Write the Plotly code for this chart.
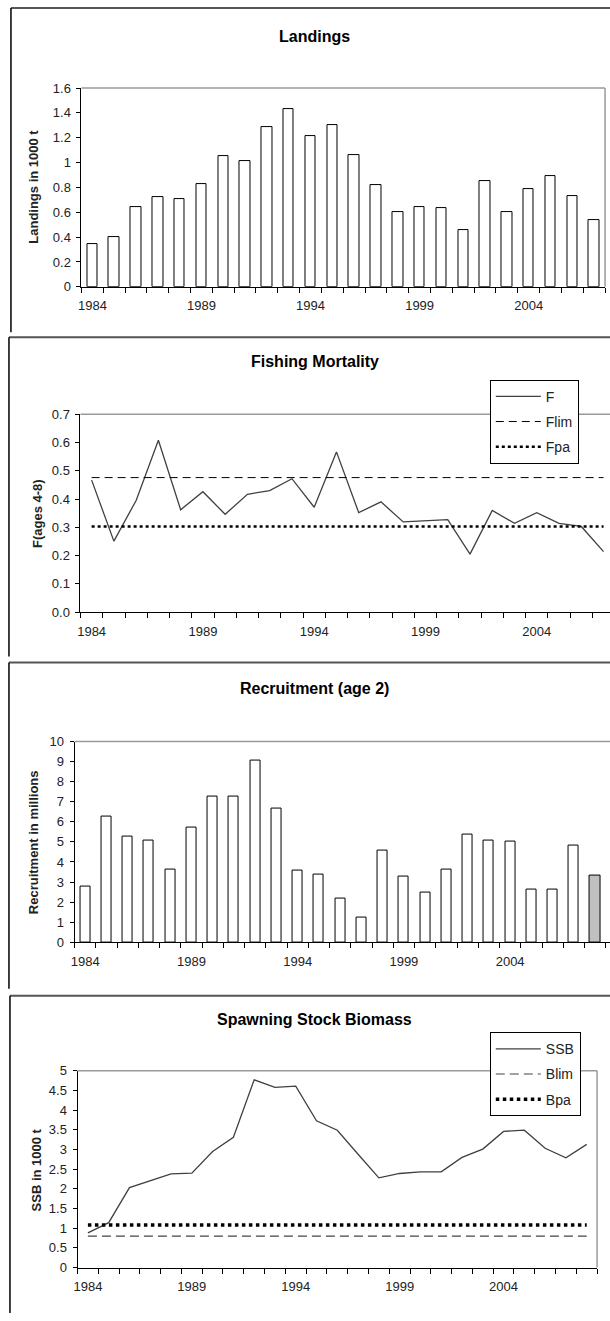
import plotly.graph_objects as go

# --- data ---
years = list(range(1984, 2008))
years_rec = list(range(1984, 2009))
tick_years = [1984, 1989, 1994, 1999, 2004]

landings = [0.34, 0.40, 0.64, 0.72, 0.71, 0.83, 1.05, 1.01, 1.29, 1.43, 1.21, 1.30,
            1.06, 0.82, 0.60, 0.64, 0.63, 0.46, 0.85, 0.60, 0.79, 0.89, 0.73, 0.54]

f_ages = [0.467, 0.251, 0.395, 0.608, 0.362, 0.426, 0.346, 0.417, 0.430, 0.472, 0.371, 0.567,
          0.352, 0.390, 0.319, 0.322, 0.327, 0.205, 0.360, 0.314, 0.352, 0.314, 0.303, 0.214]
flim = 0.476
fpa = 0.303

recruitment = [2.78, 6.26, 5.25, 5.09, 3.61, 5.72, 7.25, 7.25, 9.07, 6.68, 3.56, 3.37, 2.20,
               1.22, 4.57, 3.25, 2.47, 3.61, 5.35, 5.09, 5.04, 2.63, 2.63, 4.83, 3.30]

ssb = [0.88, 1.14, 2.03, 2.20, 2.38, 2.40, 2.95, 3.31, 4.77, 4.58, 4.61, 3.73, 3.49,
       2.88, 2.28, 2.39, 2.43, 2.43, 2.80, 3.01, 3.46, 3.49, 3.03, 2.79, 3.13]
blim = 0.80
bpa = 1.08

W, H = 610, 1321
FONT = "Liberation Sans, Arial, sans-serif"


def px_x(p):
    return p / W


def px_y(p):
    return 1 - p / H


fig = go.Figure()

# --- panel 1: landings ---
fig.add_trace(go.Bar(
    x=years, y=landings, width=0.48, showlegend=False,
    marker=dict(color="white", line=dict(color="black", width=1)),
    xaxis="x", yaxis="y"))

# --- panel 2: fishing mortality ---
fig.add_trace(go.Scatter(
    x=years, y=f_ages, mode="lines", name="F", legend="legend", legendgroup="a",
    line=dict(color="#404040", width=1.3), xaxis="x2", yaxis="y2"))
fig.add_trace(go.Scatter(
    x=years, y=[flim] * len(years), mode="lines", name="Flim", legend="legend", legendgroup="b",
    line=dict(color="black", width=1, dash="8px,5px"), xaxis="x2", yaxis="y2"))
fig.add_trace(go.Scatter(
    x=years, y=[fpa] * len(years), mode="lines", name="Fpa", legend="legend", legendgroup="c",
    line=dict(color="black", width=2.5, dash="dot"), xaxis="x2", yaxis="y2"))

# --- panel 3: recruitment ---
rec_colors = ["white"] * (len(recruitment) - 1) + ["#c0c0c0"]
fig.add_trace(go.Bar(
    x=years_rec, y=recruitment, width=0.48, showlegend=False,
    marker=dict(color=rec_colors, line=dict(color="black", width=1)),
    xaxis="x3", yaxis="y3"))

# --- panel 4: SSB ---
fig.add_trace(go.Scatter(
    x=years_rec, y=ssb, mode="lines", name="SSB", legend="legend2", legendgroup="a",
    line=dict(color="#404040", width=1.3), xaxis="x4", yaxis="y4"))
fig.add_trace(go.Scatter(
    x=years_rec, y=[blim] * len(years_rec), mode="lines", name="Blim", legend="legend2", legendgroup="b",
    line=dict(color="#444444", width=1.2, dash="9px,5px"), xaxis="x4", yaxis="y4"))
fig.add_trace(go.Scatter(
    x=years_rec, y=[bpa] * len(years_rec), mode="lines", name="Bpa", legend="legend2", legendgroup="c",
    line=dict(color="black", width=3.5, dash="dot"), xaxis="x4", yaxis="y4"))


def xstyle(x0, x1, rng, anchor):
    return dict(
        domain=[px_x(x0), px_x(x1)], range=rng, anchor=anchor,
        tickvals=tick_years, ticks="", ticklen=0, ticklabelstandoff=7,
        showgrid=False, zeroline=False,
        showline=True, linecolor="black", linewidth=1,
        minor=dict(tick0=1983.5, dtick=1, ticks="outside", ticklen=5,
                   tickcolor="black", tickwidth=1, showgrid=False),
        tickfont=dict(size=13, color="#222"))


def ystyle(top, bottom, rng, dtick, anchor, fmt=""):
    return dict(
        domain=[px_y(bottom), px_y(top)], range=rng, anchor=anchor,
        tick0=0, dtick=dtick, tickformat=fmt, ticks="outside", ticklen=4,
        ticklabelstandoff=3,
        tickcolor="black", showline=True, linecolor="black", linewidth=1,
        showgrid=False, zeroline=False, tickfont=dict(size=13, color="#222"))


legend_common = dict(
    xanchor="left", yanchor="top", bgcolor="white", bordercolor="black", borderwidth=1,
    font=dict(size=14, color="#222", family=FONT), traceorder="grouped",
    tracegroupgap=4, itemwidth=45)

shapes = []
# plot-area borders (gray top / right)
for ax, right in [("", True), ("2", False), ("3", False), ("4", True)]:
    shapes.append(dict(type="line", xref=f"x{ax} domain", yref=f"y{ax} domain",
                       x0=0, x1=1, y0=1, y1=1, line=dict(color="#9a9a9a", width=1.5)))
    if right:
        shapes.append(dict(type="line", xref=f"x{ax} domain", yref=f"y{ax} domain",
                           x0=1, x1=1, y0=0, y1=1, line=dict(color="#9a9a9a", width=1.5)))

# panel frames (top and left edges)
for top, bottom, left in [(1, 329, 7), (334, 657, 5), (663, 993, 5), (1000, 1321, 6)]:
    shapes.append(dict(type="line", xref="paper", yref="paper",
                       x0=px_x(left), x1=1, y0=px_y(top), y1=px_y(top),
                       line=dict(color="#555", width=2)))
    shapes.append(dict(type="line", xref="paper", yref="paper",
                       x0=px_x(left), x1=px_x(left), y0=px_y(top), y1=px_y(bottom),
                       line=dict(color="black", width=1.5)))

annotations = []
for text, y in [("Landings", 30), ("Fishing Mortality", 359),
                ("Recruitment (age 2)", 689), ("Spawning Stock Biomass", 1024)]:
    annotations.append(dict(text=f"<b>{text}</b>", xref="paper", yref="paper",
                            x=px_x(313), y=px_y(y), xanchor="center", yanchor="middle",
                            showarrow=False, font=dict(size=16, color="black", family=FONT)))
for text, x, y in [("Landings in 1000 t", 30, 182), ("F(ages 4-8)", 33, 512),
                   ("Recruitment in millions", 30, 845), ("SSB in 1000 t", 33, 1176)]:
    annotations.append(dict(text=f"<b>{text}</b>", xref="paper", yref="paper",
                            x=px_x(x), y=px_y(y), xanchor="center", yanchor="middle",
                            showarrow=False, textangle=-90,
                            font=dict(size=13, color="#222", family=FONT)))

fig.update_layout(
    width=W, height=H, margin=dict(l=0, r=0, t=0, b=0),
    paper_bgcolor="white", plot_bgcolor="white",
    font=dict(family=FONT, color="#222"),
    bargap=0,
    xaxis=xstyle(78, 605, [1983.5, 2007.5], "y"),
    yaxis=ystyle(82, 283, [0, 1.6], 0.2, "x"),
    xaxis2=xstyle(77, 610, [1983.5, 2007.29], "y2"),
    yaxis2=ystyle(412, 612, [0, 0.7], 0.1, "x2", ".1f"),
    xaxis3=xstyle(71, 610, [1983.5, 2008.7], "y3"),
    yaxis3=ystyle(743, 946, [0, 10], 1, "x3"),
    xaxis4=xstyle(74, 597, [1983.5, 2008.5], "y4"),
    yaxis4=ystyle(1076, 1275, [0, 5], 0.5, "x4"),
    legend=dict(x=px_x(489), y=px_y(377), **legend_common),
    legend2=dict(x=px_x(489), y=px_y(1037), **legend_common),
    shapes=shapes,
    annotations=annotations,
)

fig.write_html("out.html", config={"displayModeBar": False},
               post_script="document.body.style.margin = '0px';")
